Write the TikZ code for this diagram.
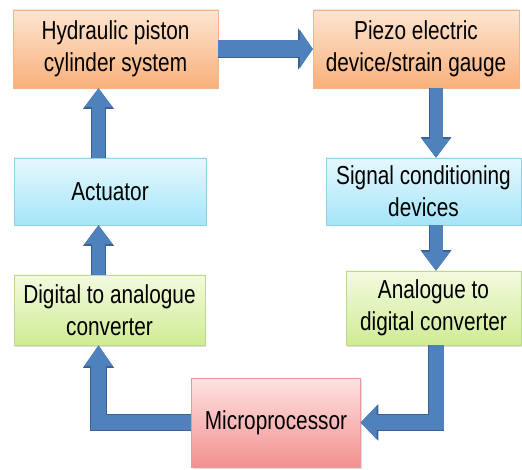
\documentclass[tikz,border=0pt]{standalone}
\usepackage{fontspec}
\setmainfont{Liberation Sans}[FakeStretch=0.8]
\usepackage{tikz}
\usetikzlibrary{arrows.meta, calc, shadows}

\definecolor{orgtop}{HTML}{FDE5D2}
\definecolor{orgbot}{HTML}{F9B07A}
\definecolor{orgedge}{HTML}{F2B48A}
\definecolor{cyntop}{HTML}{E6F8FE}
\definecolor{cynbot}{HTML}{A5E5F8}
\definecolor{cynedge}{HTML}{93CFE3}
\definecolor{grntop}{HTML}{F3FADF}
\definecolor{grnbot}{HTML}{CFEC94}
\definecolor{grnedge}{HTML}{BCD98F}
\definecolor{pnktop}{HTML}{FFE2E2}
\definecolor{pnkbot}{HTML}{F29090}
\definecolor{pnkedge}{HTML}{E29A9A}
\definecolor{arrblue}{HTML}{4F81BD}
\definecolor{arredge}{HTML}{3A6190}

\begin{document}
\begin{tikzpicture}[x=1pt, y=-1pt,
  blk/.style={rectangle, align=center, inner sep=0pt,
    font=\fontsize{26}{32}\selectfont,
    drop shadow={shadow xshift=1pt, shadow yshift=-1.5pt, opacity=0.25}},
  orgbox/.style={blk, draw=orgedge, top color=orgtop, bottom color=orgbot},
  cynbox/.style={blk, draw=cynedge, top color=cyntop, bottom color=cynbot},
  grnbox/.style={blk, draw=grnedge, top color=grntop, bottom color=grnbot},
  pnkbox/.style={blk, draw=pnkedge, top color=pnktop, bottom color=pnkbot},
  flow/.style n args={3}{draw=arrblue, line width=#1pt,
    -{Triangle[width=#2pt, length=#3pt]},
    preaction={draw=arredge, line width=#1pt+1.4pt,
      -{Triangle[width=#2pt+2.4pt, length=#3pt+1.6pt]}}}]
\useasboundingbox (0,0) rectangle (522,470);
%%── Blocks ───────────────────────────────────────────────
\node[orgbox, minimum width=205, minimum height=78] (hyd) at (115.5,49)
  {Hydraulic piston\\cylinder system};
\node[orgbox, minimum width=206, minimum height=78] (piezo) at (416,49)
  {Piezo electric\\device/strain gauge};
\node[cynbox, minimum width=192, minimum height=67] (act) at (110,191.5)
  {Actuator};
\node[cynbox, minimum width=195, minimum height=67] (sig) at (423.5,191.5)
  {Signal conditioning\\devices};
\node[grnbox, minimum width=191, minimum height=70] (dac) at (109.5,310)
  {Digital to analogue\\converter};
\node[grnbox, minimum width=175, minimum height=74] (adc) at (433.5,308)
  {Analogue to\\digital converter};
\node[pnkbox, minimum width=169, minimum height=89] (mic) at (276,422.5)
  {Microprocessor};
%%── Arrow columns ────────────────────────────────────────
\coordinate (lx) at (98.5,0);
\coordinate (rx) at (436,0);
%%── Arrows ───────────────────────────────────────────────
\draw[flow={17}{38}{13}] (hyd.east) -- (piezo.west);
\draw[flow={13}{27}{19}] (piezo.south -| rx) -- (sig.north -| rx);
\draw[flow={13}{27}{19}] (sig.south -| rx) -- (adc.north -| rx);
\draw[flow={15}{33}{16}] (adc.south -| rx) |- (mic.east);
\draw[flow={15}{27}{21}] (mic.west) -| (dac.south -| lx);
\draw[flow={13}{27}{19}] (dac.north -| lx) -- (act.south -| lx);
\draw[flow={13}{27}{19}] (act.north -| lx) -- (hyd.south -| lx);
\end{tikzpicture}
\end{document}
